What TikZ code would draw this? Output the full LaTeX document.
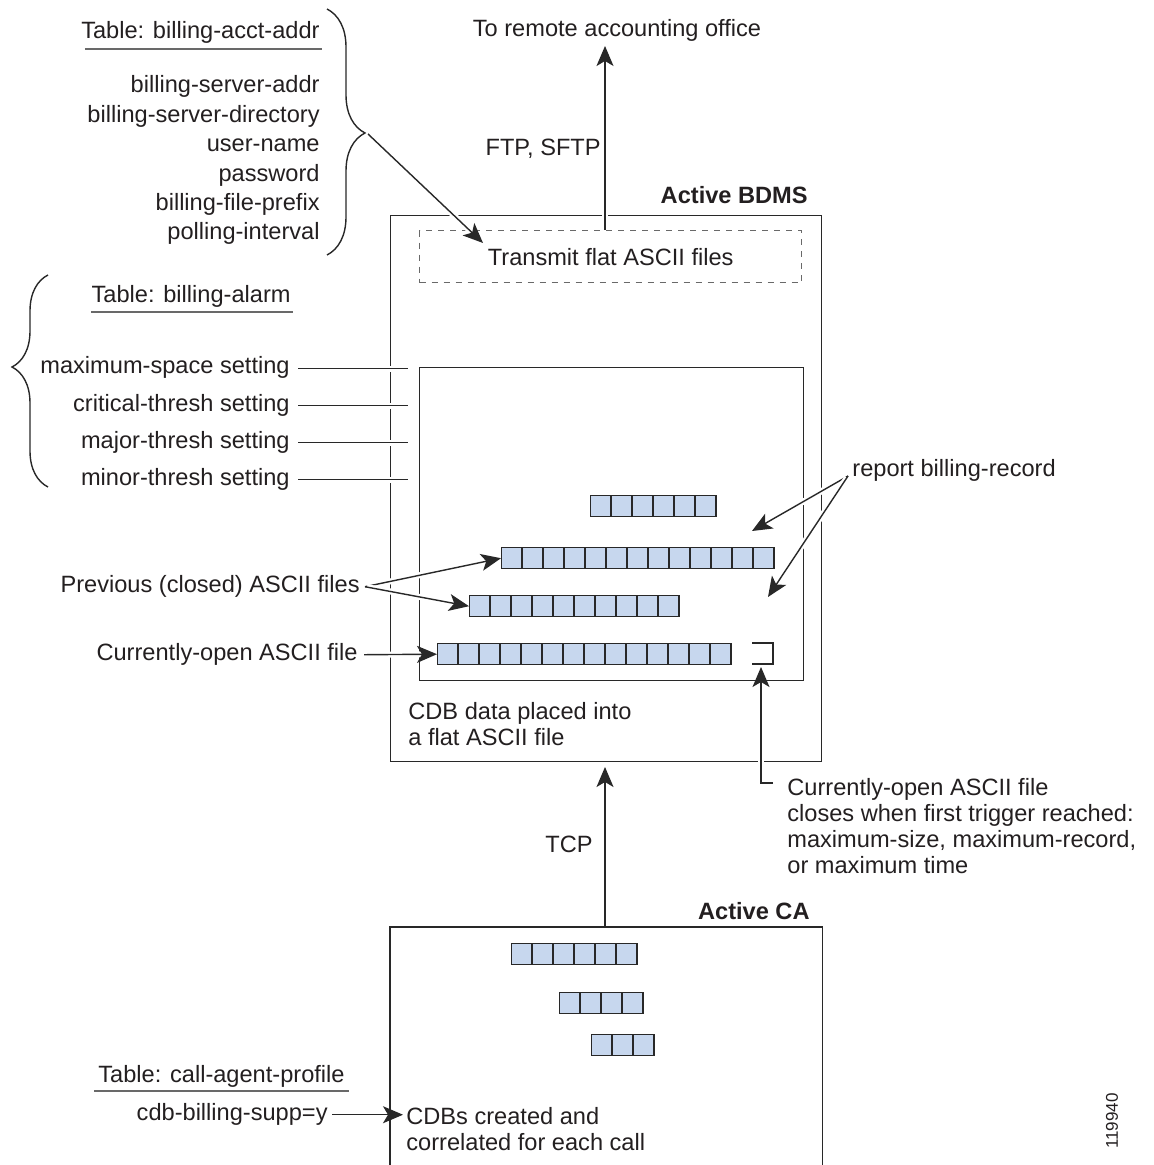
\documentclass[tikz,border=0pt]{standalone}
\usepackage{fontspec}
\setmainfont{Liberation Sans}
\usetikzlibrary{arrows.meta,decorations.pathreplacing,calc}

\definecolor{ink}{RGB}{35,31,32}
\definecolor{edge}{RGB}{40,40,40}
\definecolor{rulegray}{RGB}{105,105,105}
\definecolor{cellblue}{RGB}{199,215,238}

\tikzset{
  box/.style={draw=edge,line width=0.7pt,anchor=north west},
  dashbox/.style={draw=rulegray,dashed,line width=0.7pt,anchor=north west},
  rowbox/.style={draw=edge,fill=cellblue,line width=0.7pt,anchor=north west,minimum height=10.5pt},
  cellline/.style={draw=edge,line width=0.7pt},
  halo/.style={preaction={draw=white,line width=3pt,-,shorten <=1pt,shorten >=1pt}},
  link/.style={draw=edge,line width=0.7pt,halo},
  arrow/.style={link,-{Stealth[length=10pt,width=8.5pt,inset=2.5pt]}},
  uline/.style={draw=rulegray,line width=1pt},
  curly/.style={draw=edge,line width=0.7pt,decorate,decoration={brace,amplitude=19pt}},
}

% one row of call detail blocks: name, left, top, number of cells
\newcommand{\cdrrow}[4]{%
  \node[rowbox,minimum width=#4*10.5pt] (#1) at (#2,#3) {};
  \foreach \k in {1,...,#4}
    \draw[cellline] ([xshift=\k*10.5pt]#1.north west) -- ([xshift=\k*10.5pt]#1.south west);
}

\begin{document}
\begin{tikzpicture}[x=0.5pt,y=-0.5pt,font=\fontsize{11.8pt}{14pt}\selectfont,
    every node/.style={inner sep=0pt,text=ink}]
  \useasboundingbox (0,0) rectangle (1154,1165);

  % boxes
  \node[box,minimum width=215.5pt,minimum height=273pt] (bdms) at (390,215) {};
  \node[dashbox,minimum width=191pt,minimum height=26pt] (ftpbox) at (419,230) {Transmit flat ASCII files};
  \node[box,minimum width=192pt,minimum height=156.5pt] (spool) at (419,367) {};
  \node[box,draw=none,minimum width=215.5pt,minimum height=119pt] (ca) at (390,927) {};
  \draw[cellline] (ca.south west) |- (ca.north east) -- (ca.south east);
  \node[anchor=base east] (bdmsT) at (808,204) {\bfseries Active BDMS};
  \node[anchor=base east] (caT) at (810,919) {\bfseries Active CA};

  % records
  \cdrrow{r1}{590}{495}{6}
  \cdrrow{r2}{501}{547}{13}
  \cdrrow{r3}{469}{595}{10}
  \cdrrow{r4}{437}{643}{14}
  \draw[cellline] (752,643) -| (773,664) -- (752,664);
  \cdrrow{c1}{511}{943}{6}
  \cdrrow{c2}{559}{992}{4}
  \cdrrow{c3}{591}{1034}{3}

  % labels
  \node[anchor=base] (remote) at (617,37) {To remote accounting office};
  \node[anchor=base east] (ftp) at (601,156) {FTP, SFTP};
  \node[anchor=base east] (tcp) at (593,852) {TCP};
  \node[anchor=base west] (cdbA) at (408,719) {CDB data placed into};
  \node[anchor=base west] (cdbB) at (408,745) {a flat ASCII file};
  \node[anchor=base west] (report) at (852,476) {report billing-record};
  \node[anchor=base east] (prev) at (360,592) {Previous (closed) ASCII files};
  \node[anchor=base east] (cur) at (358,660) {Currently-open ASCII file};
  \foreach \t [count=\i from 0] in {Currently-open ASCII file,closes when first trigger reached:,{maximum-size, maximum-record,},or maximum time}
    \node[anchor=base west] (note\i) at (787,795+26*\i) {\t};
  \node[anchor=base west] (cdbsA) at (406,1124) {CDBs created and};
  \node[anchor=base west] (cdbsB) at (406,1150) {correlated for each call};
  \node[rotate=90,font=\fontsize{8.5pt}{10pt}\selectfont] (figno) at (1112,1121) {119940};

  % tables
  \node[anchor=base east] (acctT) at (320,39) {Table: billing-acct-addr};
  \foreach \t [count=\i from 0] in {billing-server-addr,billing-server-directory,user-name,password,billing-file-prefix,polling-interval}
    \node[anchor=base east] (acct\i) at (320,93+29.4*\i) {\t};
  \node[anchor=base east] (alarmT) at (291,303) {Table: billing-alarm};
  \foreach \t [count=\i from 0] in {maximum-space setting,critical-thresh setting,major-thresh setting,minor-thresh setting}
    \node[anchor=base east] (alarm\i) at (290,374+37*\i) {\t};
  \node[anchor=base east] (capT) at (345,1082) {Table: call-agent-profile};
  \node[anchor=base east] (supp) at (328,1120) {cdb-billing-supp=y};
  \draw[uline] ([xshift=2pt,yshift=-5pt]acctT.base west) -- ([xshift=1pt,yshift=-5pt]acctT.base east);
  \draw[uline] ([yshift=-4.5pt]alarmT.base west) -- ([xshift=1pt,yshift=-4.5pt]alarmT.base east);
  \draw[uline] ([xshift=-2pt,yshift=-4.5pt]capT.base west) -- ([xshift=2pt,yshift=-4.5pt]capT.base east);
  \draw[curly,decoration={aspect=0.504}] (327,9) -- (327,255);
  \draw[curly,decoration={amplitude=18pt,aspect=0.566}] (48,487) -- (48,275);

  % connectors
  \coordinate (ftpx) at (605,0);
  \coordinate (remoteIn) at (605,46);
  \coordinate (bdmsIn) at (605,767);
  \coordinate (acctTip) at (368,134);
  \coordinate (xmitIn) at (483,243);
  \coordinate (rptA) at (752,531);
  \coordinate (rptB) at (768,597);
  \coordinate (slot) at (761,667);
  \coordinate (alarmx) at (408,0);
  \coordinate (cdbsIn) at ([xshift=-1.5pt]cdbsA.west);
  \draw[arrow] (ftpbox.north -| ftpx) -- (remoteIn);
  \draw[arrow] (acctTip) -- (xmitIn);
  \foreach \i in {0,...,3}
    \draw[link] ([xshift=4pt]alarm\i.mid east) -- (alarm\i.mid east -| alarmx);
  \draw[arrow] ([xshift=-2pt]report.base west) -- (rptA);
  \draw[arrow] ([xshift=-2pt]report.base west) -- (rptB);
  \draw[arrow] ([xshift=2.5pt]prev.mid east) -- (r2.west);
  \draw[arrow] ([xshift=2.5pt]prev.mid east) -- (r3.west);
  \draw[arrow] ([xshift=3pt]cur.mid east) -- (r4.west);
  \draw[arrow] ([xshift=-7pt,yshift=6pt]note0.base west) -| (slot);
  \draw[arrow] (ca.north -| ftpx) -- (bdmsIn);
  \draw[arrow] ([xshift=2pt]supp.mid east) -- (supp.mid east -| cdbsIn);
\end{tikzpicture}
\end{document}
